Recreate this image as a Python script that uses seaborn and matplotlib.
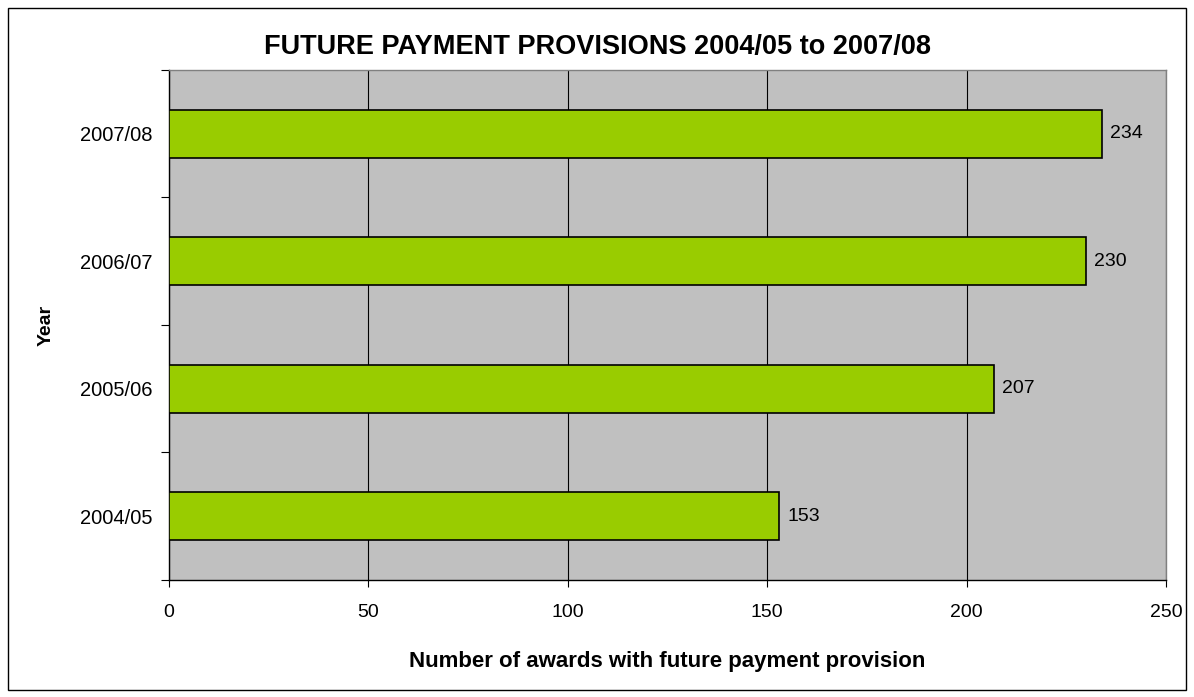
import pandas as pd
import seaborn as sns
import matplotlib.pyplot as plt
from matplotlib.patches import Rectangle

# Chart data
years = ["2007/08", "2006/07", "2005/06", "2004/05"]
awards = [234, 230, 207, 153]
x_ticks = [0, 50, 100, 150, 200, 250]

df = pd.DataFrame({"Year": years, "Awards": awards})

sns.set_style("white")
plt.rcParams["font.family"] = ["Liberation Sans", "DejaVu Sans"]
plt.rcParams["text.color"] = "black"
plt.rcParams["xtick.color"] = "black"
plt.rcParams["ytick.color"] = "black"
plt.rcParams["axes.labelcolor"] = "black"

fig = plt.figure(figsize=(11.94, 6.97), dpi=100)
ax = fig.add_axes([0.1415, 0.1679, 0.835, 0.7317])

# outer chart border
fig.patches.append(Rectangle((0.007, 0.01), 0.986, 0.979, transform=fig.transFigure,
                             fill=False, edgecolor="black", linewidth=1))

ax.set_facecolor("#C0C0C0")
sns.barplot(data=df, x="Awards", y="Year", order=years, orient="h", color="#99CC00",
            edgecolor="black", linewidth=1.2, width=0.38, saturation=1, ax=ax, zorder=3)

ax.set_xlim(0, 250)
ax.set_ylim(3.5, -0.5)
ax.set_xticks(x_ticks)
ax.tick_params(axis="x", length=5, width=0.8, direction="out", bottom=True,
               labelsize=14, pad=12)
ax.tick_params(axis="y", which="major", length=0, labelsize=14.5, pad=12)
ax.set_yticks([-0.5, 0.5, 1.5, 2.5, 3.5], minor=True)
ax.tick_params(axis="y", which="minor", length=6, width=0.8, direction="out", left=True)
ax.grid(axis="x", color="black", linewidth=0.8, zorder=0)
ax.grid(axis="y", visible=False)
ax.set_axisbelow(True)
for side, col in [("left", "black"), ("bottom", "black"), ("top", "#808080"), ("right", "#808080")]:
    ax.spines[side].set_color(col)
    ax.spines[side].set_linewidth(1)

for i, v in enumerate(awards):
    ax.text(v + 2, i, str(v), va="center", ha="left", fontsize=14, zorder=4)

ax.set_xlabel("Number of awards with future payment provision", fontsize=16,
              fontweight="bold", labelpad=22)
ax.set_ylabel("Year", fontsize=14, fontweight="bold", labelpad=18)
fig.text(0.5, 0.933, "FUTURE PAYMENT PROVISIONS 2004/05 to 2007/08", ha="center",
         va="center", fontsize=19.5, fontweight="bold")

fig.savefig("out.png", dpi=100)
